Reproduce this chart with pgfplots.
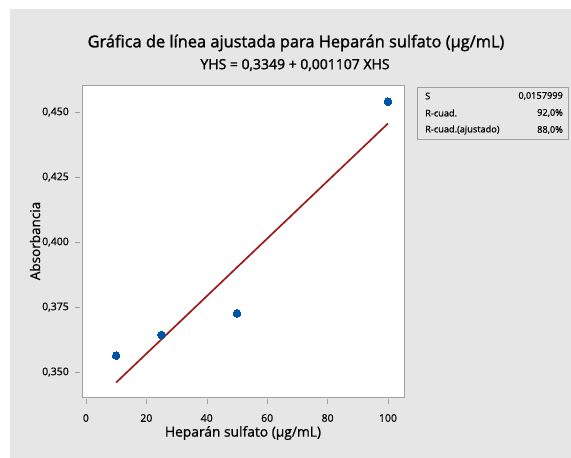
\documentclass[border=0pt]{standalone}
\usepackage{fontspec}
\setmainfont{Open Sans}
\newfontfamily\heavy{Open Sans}[FakeBold=1.4]
\newfontfamily\medium{Open Sans}[FakeBold=0.7]
\usepackage{pgfplots}
\pgfplotsset{compat=1.18}
\definecolor{panelgray}{RGB}{230,230,230}
\definecolor{framegray}{RGB}{160,160,160}
\definecolor{fitred}{RGB}{158,27,27}
\definecolor{ptblue}{RGB}{0,84,166}

\begin{document}
\begin{tikzpicture}[x=1pt,y=1pt]
\path[use as bounding box] (0,0) rectangle (571,-458);
\fill[white] (0,0) rectangle (571,-458);
\fill[panelgray] (10,-9) rectangle (571,-458);

\node[font=\heavy\fontsize{16.4}{19}\selectfont] at (296,-43) {Gráfica de línea ajustada para Heparán sulfato (µg/mL)};
\node[font=\heavy\fontsize{14}{16}\selectfont] at (295,-65) {YHS = 0,3349 + 0,001107 XHS};

\begin{axis}[
  at={(82pt,-397pt)}, anchor=south west,
  width=322pt, height=312pt, scale only axis,
  xmin=-1.3, xmax=105.3,
  ymin=0.3404, ymax=0.4604,
  axis background/.style={fill=white},
  axis line style={framegray},
  xtick={0,20,40,60,80,100},
  ytick={0.35,0.375,0.4,0.425,0.45},
  xtick pos=bottom, ytick pos=left,
  tick align=outside, major tick length=5pt,
  xtick style={framegray, yshift=-2pt},
  ytick style={framegray, xshift=-2pt},
  /pgf/number format/assume math mode=true,
  xticklabel style={font=\medium\fontsize{10.5}{12}\selectfont, anchor=center, yshift=-16pt, inner sep=0pt},
  yticklabel style={font=\medium\fontsize{10.5}{12}\selectfont, anchor=east, xshift=-8pt, inner sep=0pt,
    /pgf/number format/fixed, /pgf/number format/fixed zerofill,
    /pgf/number format/precision=3, /pgf/number format/use comma},
  scaled y ticks=false,
  xlabel={Heparán sulfato (µg/mL)},
  ylabel={Absorbancia},
  every axis x label/.style={at={(rel axis cs:0.5,0)}, yshift=-36pt, anchor=center, font=\medium\fontsize{13.8}{16}\selectfont},
  every axis y label/.style={at={(rel axis cs:0,0.5)}, xshift=-47pt, rotate=90, anchor=center, font=\medium\fontsize{13.5}{16}\selectfont},
  clip=false,
]
% fitted line YHS = 0,3349 + 0,001107 XHS over the data range
\addplot[fitred, line width=1.7pt] coordinates {(10,0.34597) (100,0.44560)};
% measured points
\addplot[only marks, color=ptblue, mark=*, mark size=3.8pt, mark options={fill=ptblue, draw=ptblue, line width=0pt}]
  coordinates {(10,0.3563) (25,0.3643) (50,0.3726) (100,0.4540)};
\end{axis}

% summary box
\draw[framegray] (417,-87) rectangle (568,-139);
\begin{scope}[every node/.style={font=\medium\fontsize{9.2}{11}\selectfont, inner sep=0pt}]
\node[anchor=west] at (425,-96) {S};
\node[anchor=west] at (425,-113) {R-cuad.};
\node[anchor=west] at (425,-130) {R-cuad.(ajustado)};
\node[anchor=east] at (563,-96) {0,0157999};
\node[anchor=east] at (563,-113) {92,0\%};
\node[anchor=east] at (563,-130) {88,0\%};
\end{scope}
\end{tikzpicture}
\end{document}
